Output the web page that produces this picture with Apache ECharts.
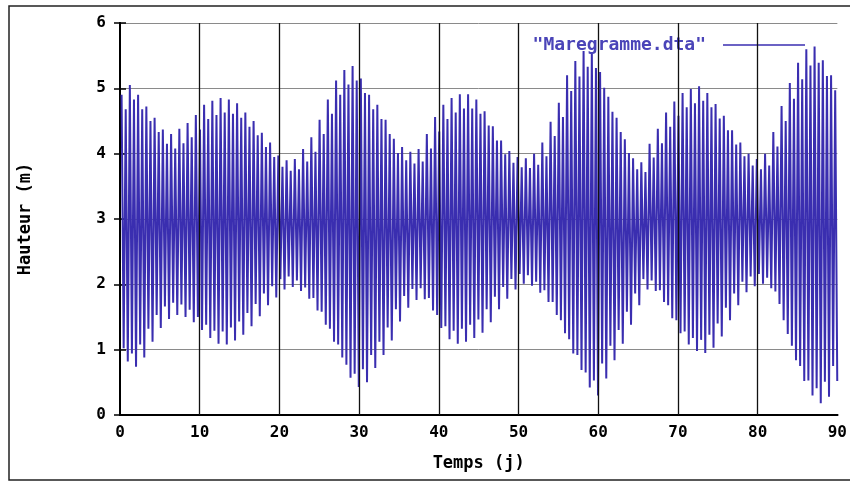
<!DOCTYPE html>
<html>
<head>
<meta charset="utf-8">
<script src="https://cdn.jsdelivr.net/npm/echarts@6/dist/echarts.min.js"></script>
<style>
  html, body { margin: 0; padding: 0; background: #fff; }
  #chart { width: 850px; height: 484px; }
</style>
</head>
<body>
<div id="chart"></div>
<script>
// tide gauge record, 90 days, one high and one low per semi-diurnal tide
var seriesName = 'Maregramme.dta';
var firstHigh = 0.2;      // day of the first high water
var tidePeriod = 0.5175;  // days between two high waters

var highs = [
    4.90,4.68, 5.05,4.83, 4.90,4.68, 4.72,4.50, 4.55,4.33, 4.37,4.15,
    4.30,4.08, 4.38,4.16, 4.47,4.25, 4.59,4.37, 4.75,4.53, 4.81,4.59,
    4.85,4.63, 4.83,4.61, 4.77,4.55, 4.63,4.41, 4.50,4.28, 4.32,4.10,
    4.17,3.95, 3.97,3.80, 3.90,3.74, 3.92,3.76, 4.07,3.88, 4.25,4.03,
    4.52,4.30, 4.83,4.61, 5.12,4.90, 5.28,5.06, 5.34,5.12, 5.15,4.93,
    4.90,4.68, 4.75,4.53, 4.52,4.30, 4.23,4.01, 4.10,3.90, 4.03,3.85,
    4.07,3.88, 4.30,4.08, 4.56,4.34, 4.75,4.53, 4.85,4.63, 4.91,4.69,
    4.91,4.69, 4.83,4.61, 4.65,4.43, 4.42,4.20, 4.20,3.99, 4.04,3.86,
    3.95,3.79, 3.93,3.78, 4.00,3.83, 4.17,3.96, 4.49,4.27, 4.78,4.56,
    5.20,4.96, 5.42,5.18, 5.57,5.33, 5.55,5.31, 5.25,5.01, 4.87,4.64,
    4.55,4.33, 4.22,4.01, 3.93,3.76, 3.87,3.72, 4.15,3.94, 4.38,4.16,
    4.63,4.41, 4.80,4.58, 4.93,4.71, 4.99,4.77, 5.03,4.81, 4.93,4.71,
    4.76,4.54, 4.58,4.36, 4.36,4.14, 4.17,3.96, 4.00,3.82, 3.92,3.76,
    4.00,3.82, 4.33,4.11, 4.73,4.50, 5.08,4.84, 5.39,5.14, 5.60,5.35,
    5.64,5.39, 5.43,5.19, 5.20,4.97
];

var lows = [
    1.02,0.82, 0.94,0.74, 1.08,0.88, 1.32,1.12, 1.53,1.33, 1.66,1.47,
    1.72,1.53, 1.69,1.50, 1.61,1.42, 1.50,1.30, 1.38,1.18, 1.29,1.09,
    1.28,1.08, 1.34,1.14, 1.43,1.23, 1.56,1.36, 1.70,1.51, 1.86,1.68,
    1.97,1.80, 2.08,1.92, 2.12,1.96, 2.06,1.90, 1.95,1.78, 1.79,1.60,
    1.58,1.38, 1.32,1.12, 1.08,0.88, 0.77,0.57, 0.63,0.43, 0.70,0.50,
    0.92,0.72, 1.12,0.92, 1.34,1.14, 1.62,1.43, 1.82,1.64, 1.93,1.76,
    1.94,1.77, 1.79,1.60, 1.53,1.33, 1.36,1.16, 1.29,1.09, 1.32,1.12,
    1.38,1.18, 1.46,1.26, 1.62,1.42, 1.81,1.62, 1.96,1.78, 2.08,1.92,
    2.16,2.01, 2.14,1.98, 2.04,1.87, 1.91,1.73, 1.73,1.53, 1.45,1.25,
    1.16,0.94, 0.92,0.69, 0.65,0.42, 0.53,0.30, 0.79,0.56, 1.06,0.84,
    1.30,1.09, 1.58,1.38, 1.86,1.68, 2.08,1.92, 2.06,1.90, 1.91,1.73,
    1.68,1.48, 1.45,1.25, 1.28,1.08, 1.18,0.98, 1.15,0.95, 1.23,1.03,
    1.40,1.20, 1.64,1.45, 1.86,1.68, 2.04,1.88, 2.12,1.97, 2.16,2.01,
    2.10,1.94, 1.89,1.70, 1.45,1.24, 1.06,0.84, 0.75,0.52, 0.53,0.30,
    0.41,0.18, 0.51,0.28, 0.75,0.52
];

var xTicks = [0, 10, 20, 30, 40, 50, 60, 70, 80, 90];
var yTicks = [0, 1, 2, 3, 4, 5, 6];

var data = [];
for (var k = 0; k < highs.length; k++) {
    var t = firstHigh + k * tidePeriod;
    data.push([t, highs[k]]);
    data.push([t + tidePeriod / 2, lows[k]]);
}

var font = "'DejaVu Sans Mono', monospace";
var lineColor = '#3a2eb0';

var chart = echarts.init(document.getElementById('chart'));
var option = {
    backgroundColor: '#fff',
    animation: false,
    graphic: [
        {
            type: 'rect',
            shape: { x: 9, y: 6, width: 850, height: 474 },
            style: { fill: 'none', stroke: '#222', lineWidth: 1.5 },
            silent: true
        }
    ],
    legend: {
        right: 40,
        top: 31,
        align: 'right',
        icon: 'rect',
        itemWidth: 82,
        itemHeight: 1.5,
        formatter: '"{name}"',
        textStyle: {
            fontFamily: font, fontWeight: 'bold', fontSize: 18, color: '#4a44b8',
            padding: [0, 12, 0, 0]
        },
        data: [seriesName]
    },
    grid: { left: 120, right: 12, top: 23, bottom: 69 },
    xAxis: [
        {
            type: 'value',
            min: 0, max: 90, interval: 10,
            name: 'Temps (j)',
            nameLocation: 'middle',
            nameGap: 40,
            nameTextStyle: { fontFamily: font, fontWeight: 'bold', fontSize: 17, color: '#000' },
            axisLine: { lineStyle: { color: '#000', width: 2 } },
            axisTick: { show: false },
            axisLabel: { fontFamily: font, fontWeight: 'bold', fontSize: 16, color: '#000', margin: 10 },
            splitLine: { show: false }
        },
        {
            type: 'value',
            position: 'top',
            min: 0, max: 90, interval: 10,
            axisLine: { lineStyle: { color: '#000', width: 2 } },
            axisTick: { show: false },
            axisLabel: { show: false },
            splitLine: { show: false }
        }
    ],
    yAxis: [
        {
            type: 'value',
            min: 0, max: 6, interval: 1,
            name: 'Hauteur (m)',
            nameLocation: 'middle',
            nameGap: 86,
            nameRotate: 90,
            nameTextStyle: { fontFamily: font, fontWeight: 'bold', fontSize: 17, color: '#000' },
            axisLine: { lineStyle: { color: '#000', width: 2 } },
            axisTick: { inside: true, length: 6, lineStyle: { color: '#000', width: 1.5 } },
            axisLabel: { fontFamily: font, fontWeight: 'bold', fontSize: 16, color: '#000', margin: 14 },
            splitLine: { show: true, lineStyle: { color: '#8a8a8a', width: 1 } }
        },
        {
            type: 'value',
            position: 'right',
            min: 0, max: 6, interval: 1,
            axisLine: { show: true, lineStyle: { color: '#000', width: 2 } },
            axisTick: { inside: true, length: 6, lineStyle: { color: '#000', width: 1.5 } },
            axisLabel: { show: false },
            splitLine: { show: false }
        }
    ],
    series: [
        {
            name: seriesName,
            type: 'line',
            showSymbol: false,
            color: lineColor,
            lineStyle: { color: lineColor, width: 2 },
            data: data,
            markLine: {
                silent: true,
                symbol: 'none',
                label: { show: false },
                lineStyle: { color: '#111', width: 1.3, type: 'solid' },
                data: xTicks.slice(1, -1).map(function (v) { return { xAxis: v }; })
            }
        }
    ]
};
chart.setOption(option);
</script>
</body>
</html>
